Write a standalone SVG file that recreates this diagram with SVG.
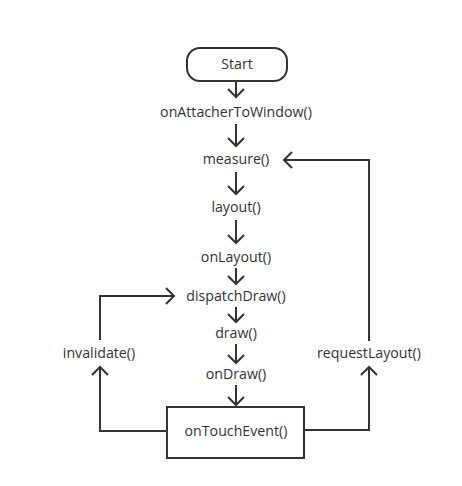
<svg xmlns="http://www.w3.org/2000/svg" width="462" height="486" viewBox="0 0 462 486">
<defs>
<marker id="ah" markerUnits="userSpaceOnUse" markerWidth="20" markerHeight="20" viewBox="-10 -10 20 20" refX="0" refY="0" orient="auto">
<path d="M-8,-8 L0,0 L-8,8" fill="none" stroke="#333" stroke-width="2"/>
</marker>
</defs>
<style>
text{font-family:"Open Sans","Noto Sans","Liberation Sans",sans-serif;font-size:14.2px;fill:#333;text-anchor:middle}
.c{fill:none;stroke:#333;stroke-width:2}
.n{fill:#fff;stroke:#333;stroke-width:2}
</style>
<rect width="462" height="486" fill="#fff"/>
<g id="connectors">
<path class="c" d="M236,81 V97" marker-end="url(#ah)"/>
<path class="c" d="M236,124 V146" marker-end="url(#ah)"/>
<path class="c" d="M236,172 V194" marker-end="url(#ah)"/>
<path class="c" d="M236,220 V243" marker-end="url(#ah)"/>
<path class="c" d="M236,268 V284" marker-end="url(#ah)"/>
<path class="c" d="M236,307 V322" marker-end="url(#ah)"/>
<path class="c" d="M236,344 V363" marker-end="url(#ah)"/>
<path class="c" d="M236,385 V405" marker-end="url(#ah)"/>
<path class="c" d="M100,340 V296 H174" marker-end="url(#ah)"/>
<path class="c" d="M167,431 H100 V367" marker-end="url(#ah)"/>
<path class="c" d="M304,430 H369 V367" marker-end="url(#ah)"/>
<path class="c" d="M369,341 V160 H284" marker-end="url(#ah)"/>
</g>
<g id="start"><rect class="n" x="187" y="48" width="100" height="33" rx="13"/><text x="237" y="69">Start</text></g>
<g id="onAttacherToWindow"><text x="236" y="116.5">onAttacherToWindow()</text></g>
<g id="measure"><text x="236" y="164">measure()</text></g>
<g id="layout"><text x="236" y="212">layout()</text></g>
<g id="onLayout"><text x="236" y="262">onLayout()</text></g>
<g id="dispatchDraw"><text x="236" y="301">dispatchDraw()</text></g>
<g id="draw"><text x="236" y="338">draw()</text></g>
<g id="onDraw"><text x="236" y="379">onDraw()</text></g>
<g id="invalidate"><text x="99" y="358">invalidate()</text></g>
<g id="requestLayout"><text x="369" y="358">requestLayout()</text></g>
<g id="onTouchEvent"><rect class="n" x="167" y="407" width="137" height="51"/><text x="236" y="436">onTouchEvent()</text></g>
</svg>
